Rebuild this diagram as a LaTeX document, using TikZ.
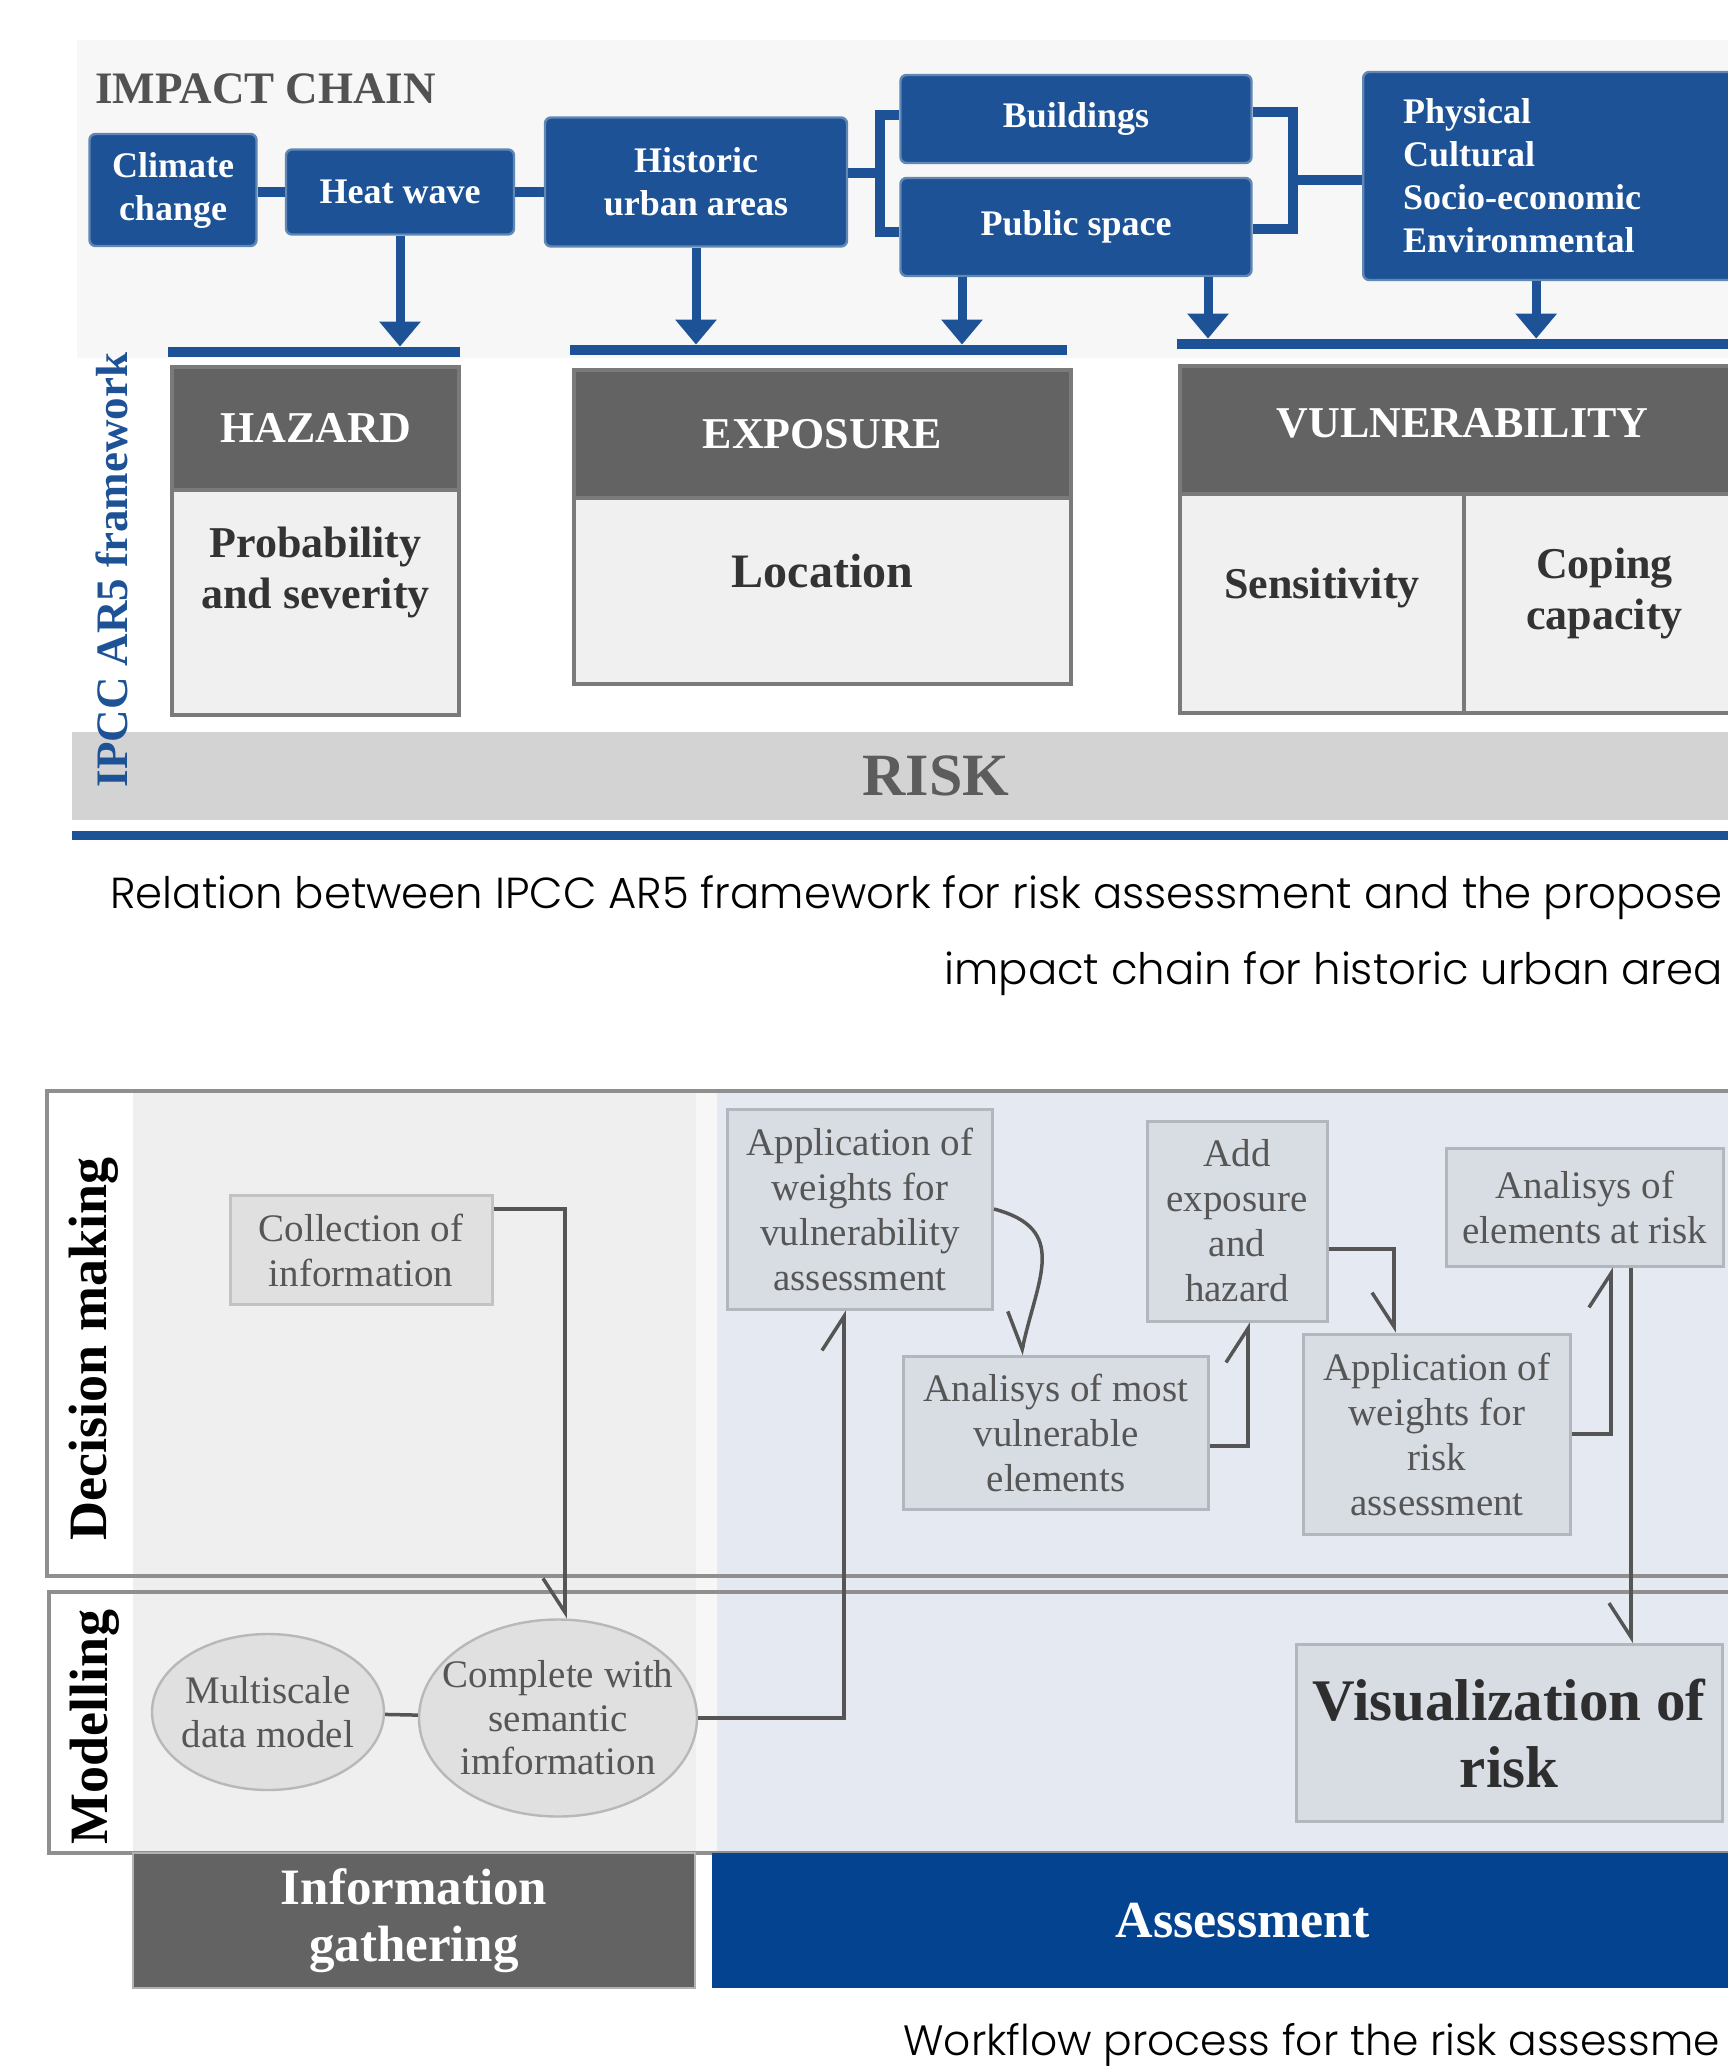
\documentclass[tikz,border=0pt]{standalone}
\usepackage{fontspec}
\setmainfont{Liberation Serif}
\IfFontExistsTF{Poppins Light}{\newfontfamily\capfont{Poppins Light}}{\newfontfamily\capfont{Poppins}}
\usetikzlibrary{arrows.meta,shapes.geometric,positioning,calc}

\definecolor{chainblue}{RGB}{29,83,150}
\definecolor{headgray}{RGB}{99,99,99}
\definecolor{bodygray}{RGB}{240,240,240}
\definecolor{framegray}{RGB}{122,122,122}
\definecolor{riskgray}{RGB}{211,211,211}
\definecolor{panelgray}{RGB}{247,247,247}
\definecolor{lanegray}{RGB}{143,143,143}
\definecolor{infobg}{RGB}{239,239,239}
\definecolor{assessbg}{RGB}{229,234,242}
\definecolor{stepfill}{RGB}{216,221,228}
\definecolor{stepline}{RGB}{178,183,190}
\definecolor{assessblue}{RGB}{4,67,143}
\definecolor{flowgray}{RGB}{85,85,85}
\definecolor{txtgray}{RGB}{86,86,86}

\begin{document}
\begin{tikzpicture}[x=0.5pt, y=-0.5pt,
    chainbox/.style={fill=chainblue, draw=chainblue!70!white, line width=1.2pt, rounded corners=3pt, text=white, font=\fontsize{18}{21.5}\selectfont\bfseries, align=center, inner sep=0pt},
    chainlink/.style={draw=chainblue, line width=5pt},
    droparrow/.style={draw=chainblue, line width=4.5pt, -{Triangle[length=12.5pt,width=20pt]}},
    bluebar/.style={fill=chainblue, inner sep=0pt, minimum height=5pt},
    headcell/.style={fill=headgray, draw=framegray, line width=2pt, text=white, font=\fontsize{22}{26}\selectfont\bfseries, inner sep=0pt},
    bodycell/.style={fill=bodygray, draw=framegray, line width=2pt, inner sep=0pt},
    celltxt/.style={text=black!80, font=\fontsize{22}{25.5}\selectfont\bfseries, align=center, inner sep=0pt},
    lane/.style={draw=lanegray, line width=2.2pt},
    lanelbl/.style={rotate=90, font=\fontsize{27}{30}\selectfont\bfseries, inner sep=0pt},
    stepbox/.style={draw=stepline, fill=stepfill, line width=1.5pt, align=center, text=txtgray, font=\fontsize{19.5}{22.5}\selectfont, inner sep=0pt},
    blob/.style={ellipse, draw=black!28, fill=black!12, line width=1.2pt, inner sep=0pt},
    blobtxt/.style={align=center, text=txtgray, font=\fontsize{19.5}{21.7}\selectfont, inner sep=0pt},
    flow/.style={draw=flowgray, line width=1.75pt},
    harpL/.style={flow, -{Straight Barb[harpoon, length=17pt, width=22pt]}},
    harpR/.style={flow, -{Straight Barb[harpoon, swap, length=17pt, width=22pt]}},
    capline/.style={font=\capfont\fontsize{21.7}{26}\selectfont, inner sep=0pt}
]
\useasboundingbox (0,0) rectangle (1728,2068);
\clip (0,0) rectangle (1728,2068);

% impact chain
\fill[panelgray] (77,40) rectangle (1728,358);
\node[anchor=base west, font=\fontsize{22.5}{26}\selectfont\bfseries, text=black!68, inner sep=0pt] (chaintitle) at (95,103) {IMPACT CHAIN};

\node[chainbox, minimum width=83.5pt, minimum height=56pt] (climate) at (173,190) {Climate\\change};
\node[chainbox, minimum width=114pt, minimum height=42.5pt] (heat) at (400,192) {Heat wave};
\node[chainbox, minimum width=151pt, minimum height=64.5pt] (hist) at (696,182) {Historic\\urban areas};
\node[chainbox, minimum width=175.5pt, minimum height=44pt] (bldg) at (1076,119) {Buildings};
\node[chainbox, minimum width=175.5pt, minimum height=49pt] (pub) at (1076,227) {Public space};
\node[chainbox, anchor=west, minimum height=104pt, text width=199pt, inner xsep=20pt, align=left] (phys) at (1362,176) {Physical\\Cultural\\Socio-economic\\Environmental};

\coordinate (lbrk) at (882,173);
\coordinate (rbrk) at (1292,180);
\draw[chainlink] (climate.east |- heat) -- (heat.west);
\draw[chainlink] (heat.east) -- (heat.east -| hist.west);
\draw[chainlink] (hist.east |- lbrk) -- (lbrk);
\draw[chainlink] ([yshift=2pt]bldg.west) -- ++(-9.5pt,0) |- ([yshift=-2.5pt]pub.west);
\draw[chainlink] ([yshift=3.5pt]bldg.east) -- ++(20pt,0) |- ([yshift=-1pt]pub.east);
\draw[chainlink] (rbrk) -- (rbrk -| phys.west);

\node[bluebar, minimum width=146pt] (hzbar) at (314,352) {};
\node[bluebar, minimum width=248.5pt] (exbar) at (818.5,350) {};
\node[bluebar, minimum width=300pt] (vlbar) at (1477,344) {};

\draw[droparrow] (heat.south) -- (heat.south |- hzbar.north);
\draw[droparrow] (hist.south) -- (hist.south |- exbar.north);
\draw[droparrow] ([xshift=-57pt]pub.south) -- ([xshift=-57pt]pub.south |- exbar.north);
\draw[droparrow] ([xshift=66pt]pub.south) -- ([xshift=66pt]pub.south |- vlbar.north);
\draw[droparrow] ([xshift=-33pt]phys.south) -- ([xshift=-33pt]phys.south |- vlbar.north);

% IPCC framework
\node[headcell, minimum width=143.5pt, minimum height=61.5pt] (hzhead) at (315.5,428.5) {HAZARD};
\node[bodycell, minimum width=143.5pt, minimum height=112.5pt, label={[celltxt,yshift=15pt]center:{Probability\\and severity}}] (hzbody) at (315.5,602.5) {};
\node[headcell, minimum width=248.5pt, minimum height=64pt] (exhead) at (822.5,434) {EXPOSURE};
\node[bodycell, minimum width=248.5pt, minimum height=93pt, label={[celltxt,font=\fontsize{24}{28}\selectfont\bfseries,yshift=10pt]center:{Location}}] (exbody) at (822.5,591) {};
\node[headcell, minimum width=282.5pt, minimum height=64pt, label={[text=white, font=\fontsize{22}{26}\selectfont\bfseries, inner sep=0pt, yshift=3.5pt]center:{VULNERABILITY}}] (vlhead) at (1462.5,430) {};
\node[bodycell, minimum width=142pt, minimum height=109.5pt, label={[celltxt,yshift=7.75pt]center:{Sensitivity}}] (sens) at (1322,603.5) {};
\node[bodycell, minimum width=140.5pt, minimum height=109.5pt, label={[celltxt,yshift=5pt]center:{Coping\\capacity}}] (cope) at (1604.5,603.5) {};

\node[fill=riskgray, minimum width=864pt, minimum height=44pt, inner sep=0pt, text=black!64, font=\fontsize{30}{34}\selectfont\bfseries] (risk) at (936,776) {RISK};
\draw[chainblue, line width=4.5pt] ([yshift=-7.5pt]risk.south west) -- ++(864pt,0);
\node[rotate=90, text=chainblue, font=\fontsize{22.5}{26}\selectfont\bfseries, inner sep=0pt] (ipcc) at (112,570) {IPCC AR5 framework};

\node[capline, anchor=base west] (cap1a) at (110,908) {Relation between IPCC AR5 framework for risk assessment and the propose};
\node[capline, anchor=base east] (cap1b) at ([yshift=-38pt]cap1a.base east) {impact chain for historic urban area};

% workflow
\fill[infobg] (133,1091) rectangle (696,1853);
\fill[black!3] (696,1091) rectangle (717,1853);
\fill[assessbg] (717,1091) rectangle (1728,1853);
\draw[lane] (47,1091) rectangle (1780,1576);
\draw[lane] (49,1592) rectangle (1780,1853);
\node[lanelbl] (dmlbl) at (94,1349) {Decision making};
\node[lanelbl] (mdlbl) at (95,1727) {Modelling};

\node[stepbox, fill=black!12, draw=black!24, minimum width=131pt, minimum height=54.5pt] (coll) at (361,1250) {Collection of\\information};
\node[stepbox, minimum width=132.5pt, minimum height=100pt] (appv) at (860,1209) {Application of\\weights for\\vulnerability\\assessment};
\node[stepbox, minimum width=152.5pt, minimum height=76.5pt] (anm) at (1056,1433) {Analisys of most\\vulnerable\\elements};
\node[stepbox, minimum width=90pt, minimum height=100pt] (addx) at (1237,1221) {Add\\exposure\\and\\hazard};
\node[stepbox, minimum width=133.5pt, minimum height=100pt] (appr) at (1437,1434) {Application of\\weights for\\risk\\assessment};
\node[stepbox, minimum width=138.5pt, minimum height=59pt] (anel) at (1585,1207) {Analisys of\\elements at risk};
\node[stepbox, minimum width=213pt, minimum height=88.5pt, text=black!82, font=\fontsize{29.5}{33.5}\selectfont\bfseries] (vis) at (1509,1733) {Visualization of\\risk};
\node[blob, minimum width=116pt, minimum height=78pt, label={[blobtxt]center:{Multiscale\\data model}}] (ms) at (268,1712) {};
\node[blob, minimum width=139pt, minimum height=98.5pt, label={[blobtxt]center:{Complete with\\semantic\\imformation}}] (cmp) at (558,1718) {};

\draw[flow] (ms) -- (cmp);
\draw[harpR] ([yshift=-7.5pt]coll.north east) -| ([xshift=3.5pt]cmp.north);
\draw[harpL] (cmp.east) -| ([xshift=-8pt]appv.south);
\draw[harpR] (appv.east) to[out=-15,in=78,looseness=1.35] ([xshift=-17.5pt]anm.north);
\draw[harpL] ([yshift=-6.5pt]anm.east) -| ([xshift=5.5pt]addx.south);
\draw[harpR] ([yshift=-14pt]addx.east) -| ([xshift=-21.5pt]appr.north);
\draw[harpL] (appr.east) -| ([xshift=13pt]anel.south);
\draw[harpR] ([xshift=23pt]anel.south) -- ([xshift=23pt]anel.south |- vis.north);

\node[fill=headgray, draw=black!30, line width=1pt, minimum width=281pt, minimum height=67.5pt, inner sep=0pt, align=center, text=white, font=\fontsize{25.5}{28.5}\selectfont\bfseries] (infobar) at (414,1920.5) {Information\\gathering};
\node[fill=assessblue, minimum width=531pt, minimum height=67.5pt, inner sep=0pt, text=white, font=\fontsize{26}{30}\selectfont\bfseries] (assbar) at (1243,1920.5) {Assessment};

\node[capline, font=\capfont\fontsize{21.2}{26}\selectfont, anchor=base west] (cap2) at (903,2055) {Workflow process for the risk assessme};
\end{tikzpicture}
\end{document}
